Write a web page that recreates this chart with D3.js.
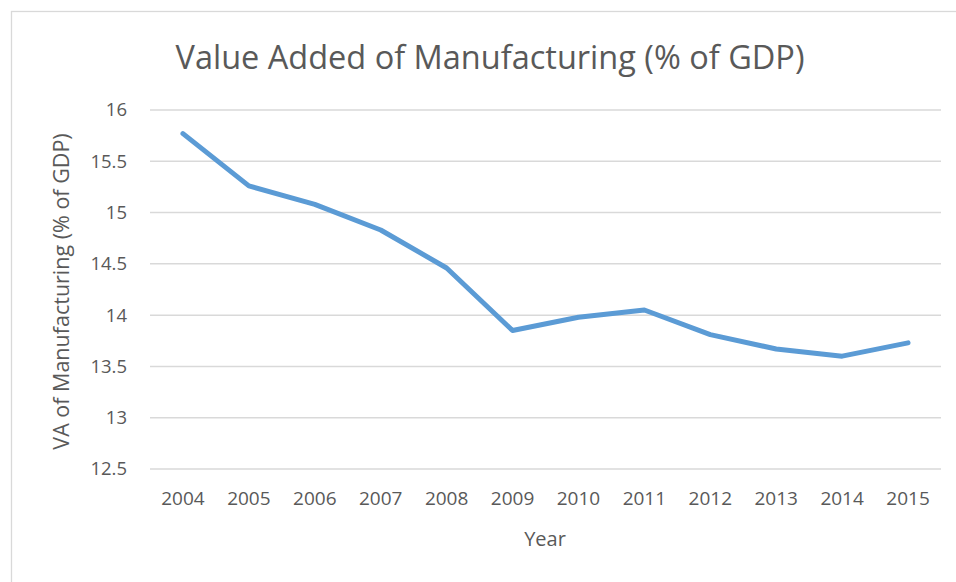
<!DOCTYPE html>
<html>
<head>
<meta charset="utf-8">
<script src="https://cdn.jsdelivr.net/npm/d3@7"></script>
<style>
  body { margin: 0; background: #fff; }
  svg { display: block; font-family: "Open Sans", sans-serif; }
  svg text { font-family: "Open Sans", sans-serif; }
</style>
</head>
<body>
<svg width="956" height="582"></svg>
<script>
var years = ["2004", "2005", "2006", "2007", "2008", "2009", "2010", "2011", "2012", "2013", "2014", "2015"];
var values = [15.77, 15.26, 15.08, 14.83, 14.46, 13.85, 13.98, 14.05, 13.81, 13.67, 13.60, 13.73];
var yTicks = [12.5, 13, 13.5, 14, 14.5, 15, 15.5, 16];

var svg = d3.select("svg"),
    margin = {top: 110, right: 15, bottom: 113, left: 150},
    width = 956 - margin.left - margin.right,
    height = 582 - margin.top - margin.bottom;

// chart frame
svg.append("rect")
    .attr("x", 11.5)
    .attr("y", 11.5)
    .attr("width", 960)
    .attr("height", 600)
    .attr("fill", "none")
    .attr("stroke", "#d9d9d9")
    .attr("stroke-width", 1.3);

var g = svg.append("g").attr("transform", "translate(" + margin.left + "," + margin.top + ")");

var x = d3.scaleBand()
    .domain(years)
    .range([0, width]);

var y = d3.scaleLinear()
    .domain([12.5, 16])
    .range([height, 0]);

// gridlines
g.selectAll(".grid")
    .data(yTicks)
  .enter().append("line")
    .attr("x1", 0)
    .attr("x2", width)
    .attr("y1", function(d) { return y(d); })
    .attr("y2", function(d) { return y(d); })
    .attr("stroke", "#d9d9d9")
    .attr("stroke-width", 1.5);

var yAxis = g.append("g")
    .call(d3.axisLeft(y).tickValues(yTicks).tickSize(0).tickPadding(23).tickFormat(function(d) { return d; }));
yAxis.attr("font-family", null).attr("font-size", null);
yAxis.select(".domain").remove();
yAxis.selectAll("text")
    .attr("fill", "#595959")
    .style("font-size", "18.5px");

var xAxis = g.append("g")
    .attr("transform", "translate(0," + height + ")")
    .call(d3.axisBottom(x).tickSize(0).tickPadding(23));
xAxis.attr("font-family", null).attr("font-size", null);
xAxis.select(".domain").remove();
xAxis.selectAll("text")
    .attr("fill", "#595959")
    .style("font-size", "19px");

var line = d3.line()
    .x(function(d, i) { return x(years[i]) + x.bandwidth() / 2; })
    .y(function(d) { return y(d); });

g.append("path")
    .datum(values)
    .attr("fill", "none")
    .attr("stroke", "#5b9bd5")
    .attr("stroke-width", 5)
    .attr("stroke-linejoin", "round")
    .attr("stroke-linecap", "round")
    .attr("d", line);

svg.append("text")
    .attr("x", 490)
    .attr("y", 69)
    .attr("text-anchor", "middle")
    .attr("fill", "#595959")
    .style("font-size", "32.5px")
    .text("Value Added of Manufacturing (% of GDP)");

svg.append("text")
    .attr("x", 545)
    .attr("y", 546)
    .attr("text-anchor", "middle")
    .attr("fill", "#595959")
    .style("font-size", "20px")
    .text("Year");

svg.append("text")
    .attr("transform", "translate(69," + (margin.top + height / 2 + 2) + ") rotate(-90)")
    .attr("text-anchor", "middle")
    .attr("fill", "#595959")
    .style("font-size", "21.5px")
    .text("VA of Manufacturing (% of GDP)");
</script>
</body>
</html>
